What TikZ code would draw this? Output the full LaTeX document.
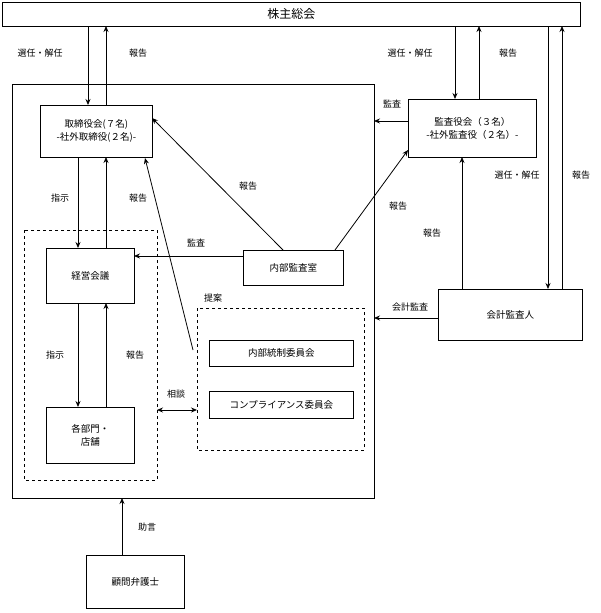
\documentclass[tikz,border=0pt]{standalone}
\usepackage{fontspec}
\setmainfont{Noto Sans CJK JP}
\usetikzlibrary{arrows.meta}
\begin{document}
\begin{tikzpicture}[x=1pt,y=-1pt,
 bx/.style={draw,thick,fill=white},
 dbox/.style={draw,thick,dashed},
 ar/.style={-{Stealth[length=6pt,width=5pt]},thick},
 lb/.style={font=\fontsize{9}{10}\selectfont},
 tx/.style={font=\fontsize{9.5}{13}\selectfont,align=center}]
\useasboundingbox (0,0) rectangle (600,613);
\node[bx,minimum width=578,minimum height=24,anchor=north west,font=\fontsize{12}{13}\selectfont] (top) at (2,2) {株主総会};
\draw[thick] (12,84) rectangle (374,498);
\draw[dbox] (24,230) rectangle (157,480);
\draw[dbox] (197,308) rectangle (364,450);
\node[lb] at (213,298) {提案};
\node[bx,tx,minimum width=112,minimum height=52,anchor=north west] (tor) at (40,105) {取締役会(７名)\\-社外取締役(２名)-};
\node[bx,tx,minimum width=128,minimum height=58,anchor=north west] (kan) at (408,99) {監査役会（３名）\\-社外監査役（２名）-};
\node[bx,tx,minimum width=88,minimum height=55,anchor=north west] (kei) at (46,248) {経営会議};
\node[bx,tx,minimum width=88,minimum height=56,anchor=north west] (bu) at (46,407) {各部門・\\店舗};
\node[bx,tx,minimum width=100,minimum height=35,anchor=north west] (nai) at (243,250) {内部監査室};
\node[bx,tx,minimum width=144,minimum height=26,anchor=north west] (ic) at (209,340) {内部統制委員会};
\node[bx,tx,minimum width=144,minimum height=27,anchor=north west] (cc) at (209,391) {コンプライアンス委員会};
\node[bx,tx,minimum width=144,minimum height=51,anchor=north west] (kai) at (438,289) {会計監査人};
\node[bx,tx,minimum width=98,minimum height=53,anchor=north west] (ben) at (86,555) {顧問弁護士};
\draw[ar] (88,26) -- (88,105); \node[lb] at (40,53) {選任・解任};
\draw[ar] (106,105) -- (106,26); \node[lb] at (138,53) {報告};
\draw[ar] (455,26) -- (455,99); \node[lb] at (410,53) {選任・解任};
\draw[ar] (479,99) -- (479,26); \node[lb] at (508,53) {報告};
\draw[ar] (548,26) -- (548,289); \node[lb] at (517,175) {選任・解任};
\draw[ar] (562,289) -- (562,26); \node[lb] at (581,175) {報告};
\draw[ar] (408,121) -- (374,121); \node[lb] at (392,104) {監査};
\draw[ar] (78,157) -- (78,248); \node[lb] at (60,198) {指示};
\draw[ar] (106,248) -- (106,157); \node[lb] at (138,198) {報告};
\draw[ar] (283,250) -- (152,118); \node[lb] at (248,186) {報告};
\draw[ar] (335,250) -- (408,150); \node[lb] at (398,206) {報告};
\draw[ar] (243,256) -- (134,256); \node[lb] at (196,243) {監査};
\draw[ar] (462,289) -- (462,157); \node[lb] at (432,233) {報告};
\draw[ar] (438,318) -- (374,318); \node[lb] at (410,307) {会計監査};
\draw[ar] (78,303) -- (78,407); \node[lb] at (55,355) {指示};
\draw[ar] (106,407) -- (106,303); \node[lb] at (135,355) {報告};
\draw[{Stealth[length=6pt,width=5pt]}-{Stealth[length=6pt,width=5pt]},thick] (157,410) -- (197,410); \node[lb] at (176,394) {相談};
\draw[ar] (193,350) -- (145,158);
\draw[ar] (122,555) -- (122,498); \node[lb] at (147,527) {助言};
\end{tikzpicture}
\end{document}
